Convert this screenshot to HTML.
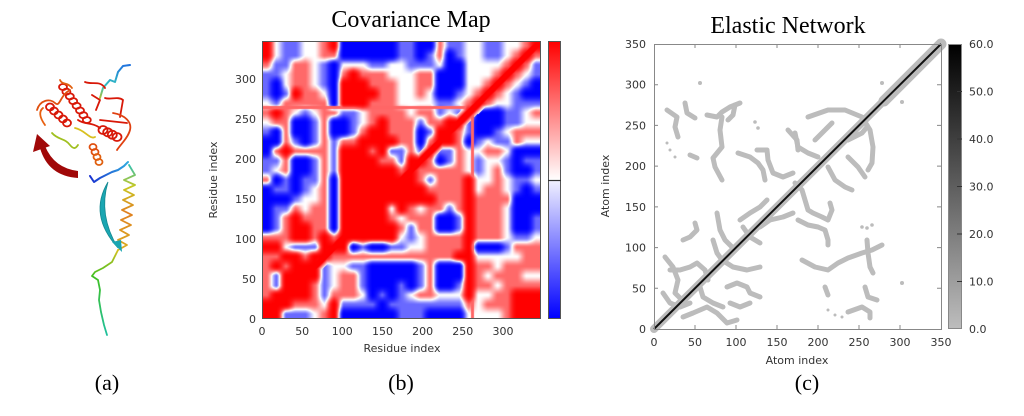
<!DOCTYPE html>
<html><head><meta charset="utf-8"><style>
html,body{margin:0;padding:0;background:#fff}
body{width:1024px;height:416px;position:relative;overflow:hidden}
#cov{position:absolute;left:262px;top:41px;width:279px;height:278px;z-index:0}
#main{position:absolute;left:0;top:0;z-index:1}
</style></head><body>
<canvas id="cov" width="279" height="278"></canvas>
<svg id="main" width="1024" height="416" viewBox="0 0 1024 416" xmlns="http://www.w3.org/2000/svg">
<defs>
<linearGradient id="cbc" x1="0" y1="0" x2="0" y2="1">
<stop offset="0" stop-color="#ff0000"/><stop offset="0.5" stop-color="#ffffff"/><stop offset="0.5" stop-color="#f2f2ff"/><stop offset="1" stop-color="#0000ff"/>
</linearGradient>
<linearGradient id="cbe" x1="0" y1="0" x2="0" y2="1">
<stop offset="0" stop-color="#000000"/><stop offset="1" stop-color="#bdbdbd"/>
</linearGradient>
<linearGradient id="hx" gradientUnits="userSpaceOnUse" x1="0" y1="165" x2="0" y2="252">
<stop offset="0" stop-color="#30c0b0"/><stop offset="0.25" stop-color="#c8c820"/><stop offset="0.55" stop-color="#e08020"/><stop offset="1" stop-color="#d8b020"/>
</linearGradient>
<linearGradient id="tl" gradientUnits="userSpaceOnUse" x1="0" y1="250" x2="0" y2="336">
<stop offset="0" stop-color="#d8c020"/><stop offset="0.3" stop-color="#40c020"/><stop offset="1" stop-color="#20c0a0"/>
</linearGradient>
<linearGradient id="bl" gradientUnits="userSpaceOnUse" x1="90" y1="0" x2="130" y2="0">
<stop offset="0" stop-color="#1830d0"/><stop offset="1" stop-color="#30b0e0"/>
</linearGradient>
<linearGradient id="tp" gradientUnits="userSpaceOnUse" x1="0" y1="100" x2="0" y2="64">
<stop offset="0" stop-color="#c0c020"/><stop offset="0.4" stop-color="#30c0c0"/><stop offset="1" stop-color="#2070e0"/>
</linearGradient>
</defs>

<!-- (a) protein -->
<g fill="none" stroke-linecap="round" stroke-linejoin="round">
<path d="M100,98 L103,88 L110,80 L115,82 L118,72 L123,66 L130,65" stroke="url(#tp)" stroke-width="2"/>
<g stroke="#d81808" stroke-width="1.8">
<ellipse cx="63" cy="87" rx="4" ry="3"/><ellipse cx="66.4" cy="91.7" rx="4" ry="3"/><ellipse cx="69.8" cy="96.4" rx="4" ry="3"/><ellipse cx="73.2" cy="101.1" rx="4" ry="3"/><ellipse cx="76.6" cy="105.8" rx="4" ry="3"/><ellipse cx="80" cy="110.5" rx="4" ry="3"/><ellipse cx="83.4" cy="115.2" rx="4" ry="3"/><ellipse cx="86.8" cy="120" rx="4" ry="3"/>
<ellipse cx="50" cy="107" rx="4" ry="3.5"/><ellipse cx="54" cy="111" rx="4" ry="3.5"/><ellipse cx="58.5" cy="115" rx="4" ry="3.5"/><ellipse cx="63" cy="119" rx="4" ry="3.5"/><ellipse cx="67" cy="123" rx="4" ry="3.5"/>
<ellipse cx="103" cy="130" rx="4.5" ry="4"/><ellipse cx="107.7" cy="132.3" rx="4.5" ry="4"/><ellipse cx="112.3" cy="134.7" rx="4.5" ry="4"/><ellipse cx="117" cy="137" rx="4.5" ry="4"/>
<ellipse cx="93" cy="147" rx="3.5" ry="3" stroke="#e05010"/><ellipse cx="95" cy="152" rx="3.5" ry="3" stroke="#e05010"/><ellipse cx="97" cy="157" rx="3.5" ry="3" stroke="#e06010"/><ellipse cx="99" cy="162" rx="3.5" ry="3" stroke="#e06010"/>
</g>
<path d="M37,110 C40,100 50,98 55,103 S60,95 70,90" stroke="#e05010" stroke-width="1.8"/>
<path d="M45,125 C40,118 38,112 43,108" stroke="#e86010" stroke-width="1.8"/>
<path d="M52,133 C58,140 65,138 70,145 C74,150 76,148 78,145" stroke="#a0c020" stroke-width="1.8"/>
<path d="M75,128 C85,130 90,140 95,137" stroke="#d8c020" stroke-width="1.8"/>
<path d="M105,98 C110,100 118,96 123,100 L120,117" stroke="#d81808" stroke-width="1.8"/>
<path d="M100,120 L127,123" stroke="#d81808" stroke-width="1.8"/>
<path d="M113,113 C125,115 132,122 130,130 C128,138 120,145 117,150" stroke="#e04010" stroke-width="1.8"/>
<path d="M60,80 C62,85 68,82 72,88" stroke="#e06010" stroke-width="1.8"/>
<path d="M85,82 C92,85 100,80 105,88 M92,95 L100,100 L96,110 M78,120 C85,125 92,122 100,128" stroke="#d81808" stroke-width="1.8"/>
<path d="M90,176 L94,182 L100,178 L106,175 L112,172 L118,170 L124,166 L128,162" stroke="url(#bl)" stroke-width="2"/>
<path d="M129,165 L135,175 L124,180 L135,185 L124,190 L134,195 L123,200 L133,205 L122,210 L132,215 L121,220 L131,225 L120,230 L129,235 L118,240 L127,245 L118,250" stroke="url(#hx)" stroke-width="1.8"/>
<path d="M118,250 L112,262 L103,268 L95,272 L92,276 L98,280 L100,290 L99,300 L101,312 L104,325 L107,335" stroke="url(#tl)" stroke-width="1.8"/>
</g>
<path d="M108,182 Q88,215 118,248 Q98,215 108,182 Z" fill="#1aa6b2" stroke="#148890" stroke-width="0.8"/>
<path d="M112,242 L122,252 L121,240 Z" fill="#1aa6b2"/>
<path d="M78,178 Q48,176 40,148 L45,146 Q54,168 78,171 Z" fill="#a00808"/>
<path d="M33,152 L50,146 L37,134 Z" fill="#a00808"/>

<!-- (b) covariance map -->
<rect x="262.5" y="41.5" width="278" height="277" fill="none" stroke="#555" stroke-width="1"/>
<rect x="548.5" y="41.5" width="12" height="277" fill="url(#cbc)" stroke="#555" stroke-width="1"/>
<line x1="548" y1="180.5" x2="561" y2="180.5" stroke="#333" stroke-width="1.2"/>
<g font-family="'DejaVu Sans', 'Liberation Sans', sans-serif" font-size="11" fill="#333">
<g text-anchor="middle">
<text x="262" y="335">0</text><text x="302.2" y="335">50</text><text x="342.3" y="335">100</text><text x="382.5" y="335">150</text><text x="422.6" y="335">200</text><text x="462.8" y="335">250</text><text x="503" y="335">300</text>
<text x="402" y="352">Residue index</text>
<text transform="translate(217,180) rotate(-90)">Residue index</text>
</g>
<g text-anchor="end">
<text x="256" y="323">0</text><text x="256" y="283">50</text><text x="256" y="243">100</text><text x="256" y="203">150</text><text x="256" y="163">200</text><text x="256" y="123">250</text><text x="256" y="83">300</text>
</g>
</g>

<!-- (c) elastic network -->
<g fill="none" stroke="#bcbcbc" stroke-width="5" stroke-linecap="round" stroke-linejoin="round">
<line x1="654" y1="329" x2="941" y2="44" stroke-width="8"/>
<line x1="884" y1="101" x2="941" y2="44" stroke-width="11"/>
<polyline points="683,317 693,313 707,307 717,313 727,323 737,320"/>
<polyline points="663,293 670,303 680,307 690,303"/>
<polyline points="665,257 673,267 678,280 675,293 682,300"/>
<polyline points="670,270 680,270 690,267 697,263 705,270 708,280"/>
<polyline points="683,240 690,237 697,230 695,223"/>
<polyline points="700,287 703,297 713,303 723,307"/>
<polyline points="713,240 717,253 722,260 733,267 747,270 760,267"/>
<polyline points="717,213 720,230 725,240 732,247"/>
<polyline points="727,287 737,283 747,287 750,293 760,297"/>
<polyline points="730,303 740,307 750,303"/>
<polyline points="740,220 750,213 760,207 767,200"/>
<polyline points="760,227 770,220 783,217 793,213"/>
<polyline points="743,227 750,237 760,243"/>
<polyline points="667,110 677,117 675,127 678,137"/>
<polyline points="685,103 687,113 695,118"/>
<polyline points="707,115 717,117 722,112 730,107 740,103"/>
<polyline points="722,117 720,130 722,147 713,158 715,167 722,180"/>
<polyline points="735,105 733,115 728,120"/>
<polyline points="690,155 697,158"/>
<polyline points="738,153 750,157 758,163 763,170 765,180"/>
<polyline points="757,150 767,150 768,160 773,173 783,177 793,173"/>
<polyline points="788,130 797,140 798,150"/>
<polyline points="795,183 802,190 805,200 808,210 813,213 822,217 828,220 832,210 830,203"/>
<polyline points="798,220 808,225 818,227 825,230 828,240 828,245"/>
<polyline points="808,117 828,110 845,110 862,117 870,130 873,147 872,163 868,170"/>
<polyline points="828,167 835,180 845,187 852,190"/>
<polyline points="815,140 825,130 832,123"/>
<polyline points="848,140 862,133 867,127"/>
<polyline points="848,157 858,167 865,177"/>
<polyline points="795,133 798,147 808,153 818,157"/>
<polyline points="802,260 815,267 828,270 838,263 848,258 862,253 872,250 882,245"/>
<polyline points="867,240 868,253 870,267 873,273"/>
<polyline points="825,287 828,295"/>
<polyline points="865,287 868,297 877,300"/>
<polyline points="848,312 862,307 870,312 870,318"/>
</g>
<g fill="#bcbcbc">
<circle cx="667" cy="143" r="1.5"/><circle cx="670" cy="150" r="1.5"/><circle cx="675" cy="157" r="1.5"/>
<circle cx="828" cy="310" r="1.5"/><circle cx="835" cy="315" r="1.5"/><circle cx="842" cy="317" r="1.5"/>
<circle cx="862" cy="227" r="1.8"/><circle cx="867" cy="228" r="1.8"/><circle cx="872" cy="225" r="1.8"/>
<circle cx="902" cy="283" r="2"/><circle cx="882" cy="83" r="2"/><circle cx="902" cy="102" r="2"/><circle cx="700" cy="83" r="2"/>
<circle cx="755" cy="122" r="1.8"/><circle cx="758" cy="128" r="1.8"/>
</g>
<line x1="654" y1="329" x2="941" y2="44" stroke="#111" stroke-width="2"/>
<rect x="654.5" y="44.5" width="287" height="285" fill="none" stroke="#888" stroke-width="1"/>
<g stroke="#888" stroke-width="1">
<path d="M695,329v-4M736,329v-4M777,329v-4M818,329v-4M859,329v-4M900,329v-4M695,44v4M736,44v4M777,44v4M818,44v4M859,44v4M900,44v4"/>
<path d="M654,288.3h4M654,247.6h4M654,206.9h4M654,166.1h4M654,125.4h4M654,84.7h4M941,288.3h-4M941,247.6h-4M941,206.9h-4M941,166.1h-4M941,125.4h-4M941,84.7h-4"/>
</g>
<rect x="948.5" y="44.5" width="13" height="284" fill="url(#cbe)" stroke="#888" stroke-width="1"/>
<g stroke="#333" stroke-width="1">
<path d="M957,91.5h5M957,139h5M957,186.5h5M957,234h5M957,281.5h5"/>
</g>
<g font-family="'DejaVu Sans', 'Liberation Sans', sans-serif" font-size="11" fill="#333">
<g text-anchor="middle">
<text x="654" y="346">0</text><text x="695" y="346">50</text><text x="736" y="346">100</text><text x="777" y="346">150</text><text x="818" y="346">200</text><text x="859" y="346">250</text><text x="900" y="346">300</text><text x="941" y="346">350</text>
<text x="797" y="364">Atom index</text>
<text transform="translate(609,186) rotate(-90)">Atom index</text>
</g>
<g text-anchor="end">
<text x="646" y="333">0</text><text x="646" y="292.3">50</text><text x="646" y="251.6">100</text><text x="646" y="210.9">150</text><text x="646" y="170.1">200</text><text x="646" y="129.4">250</text><text x="646" y="88.7">300</text><text x="646" y="48">350</text>
</g>
<g text-anchor="start">
<text x="969" y="48">60.0</text><text x="969" y="95.5">50.0</text><text x="969" y="143">40.0</text><text x="969" y="190.5">30.0</text><text x="969" y="238">20.0</text><text x="969" y="285.5">10.0</text><text x="969" y="333">0.0</text>
</g>
</g>

<!-- titles and captions -->
<g font-family="'Liberation Serif', 'Times New Roman', serif" fill="#000" text-anchor="middle">
<text x="411" y="27" font-size="24">Covariance Map</text>
<text x="788" y="33" font-size="24">Elastic Network</text>
<text x="107" y="390" font-size="22">(a)</text>
<text x="401" y="390" font-size="22">(b)</text>
<text x="807" y="390" font-size="22">(c)</text>
</g>
</svg>
<script>
(function(){
var rows=[
"RwbbwwrRBBBBBBbbBBrbbwwbbwwrR",
"RwbbwwrrBBBBBBbbBbrBbwwbbwrRr",
"rbbrrwbBwwwbbwwbbbwBBwwwwrRrb",
"bbwrrwbBrRrrrwwwrrBBBwwwrRrwb",
"bBwrrwbBRRRrrrwwrrBBBwwrRrwbB",
"bBbRrrwBRRRRrrwwrwBBbwrRrwbBB",
"wbrrrrrBRRRrrrwwwwbbwrRrwwbbb",
"rRrwbwrrbbwrrrrwrrbwbRBBBbbwr",
"wrrBBbrBBbwrRrrrbrrRRbBBBbbww",
"bBrBBbrBBbrRRrrrBbRRrbBBbwrrr",
"BBrbBbrbrrRRRRrrBrRRrBbwbbrww",
"BrRrrrrbRRRrRbbrbRbbrwwrrwBBB",
"bbrBBbrbRRRRrrbRRrBbrwbwwbBbb",
"bwrBBbrbRRRRRRrRrrrrrwbwrbBBb",
"rBbBbbrBRRRRRRRRrbrrrRwwrwbbw",
"BbbBbwrBRRRRRRRRRrrrrRwrrwbBb",
"BBBbwwrBRRRRRRRRRRrrrRrrrrBBB",
"BbbrwrrBRRRRRwRrwrrbrRrrrwBBB",
"BbrRrrrBRRRRRrwrrrBBbRrrrwBBb",
"BbrRRrrBRRRRRRrbrrBBbRrrrwBBb",
"rrrRRrRrRRRRRRwbwrrrrRrrrwbbw",
"RRwbbbRRRBbBBbbwwrrrrRBBBbrrr",
"rrRRrRRrrrrrrrrrrrrrRRwwwwwrr",
"rRrRRRbwwbbBBBBBbrBBBRrrwrrrr",
"rbRRRRbwrrbBBBBBbrBBBRrwrrrww",
"rbRRRrbwrrbBBBbBbrBBbRrrwrrrr",
"rRRRRrbrrrwBbBbwrrwwwRwwrrRRR",
"RRRrrrwRbbbbBbbbbbbbbrwrrrRRR",
"RRbbbwrRBBBBBBbbbBBBBwwwwrRRR"];
var val={R:1,r:0.38,w:0,b:-0.38,B:-1};
var G=[];
for(var t=0;t<29;t++){var s=rows[t];var j=28-t;G[j]=[];for(var k=0;k<29;k++){var c=s.charAt(k);G[j][k]=(c in val)?val[c]:0;}}
var cv=document.getElementById('cov');var W=279,H=278;
var ctx=cv.getContext('2d');var im=ctx.createImageData(W,H);var D=im.data;
function sm(f){return 0.5*f+0.5*f*f*(3-2*f);}
function g(j,k){j=Math.max(0,Math.min(28,j));k=Math.max(0,Math.min(28,k));return G[j][k];}
var th=Math.tanh(1.6);
for(var py=0;py<H;py++){for(var px=0;px<W;px++){
 var rx=(px+0.5)/W*348, ry=(H-py-0.5)/H*348;
 var gx=rx/12-0.5, gy=ry/12-0.5;
 var x0=Math.floor(gx), y0=Math.floor(gy);
 var fx=sm(Math.max(0,Math.min(1,gx-x0))), fy=sm(Math.max(0,Math.min(1,gy-y0)));
 var v=(g(y0,x0)*(1-fx)+g(y0,x0+1)*fx)*(1-fy)+(g(y0+1,x0)*(1-fx)+g(y0+1,x0+1)*fx)*fy;
 v=Math.tanh(1.6*v)/th;
 var d=Math.abs(rx-ry); var dg=Math.max(0,Math.min(1,1.6-d/8));
 if(dg>0 && dg>v) v=dg;
 if(Math.abs(ry-265)<1.8 && rx<258) v=Math.max(v,0.6);
 if(Math.abs(rx-263)<1.8 && ry<258) v=Math.max(v,0.6);
 var r,gg,b;
 if(v>=0){r=255;gg=b=Math.round(255*(1-v));}else{b=255;r=gg=Math.round(255*(1+v));}
 var i=(py*W+px)*4; D[i]=r;D[i+1]=gg;D[i+2]=b;D[i+3]=255;
}}
ctx.putImageData(im,0,0);
})();
</script>
</body></html>
